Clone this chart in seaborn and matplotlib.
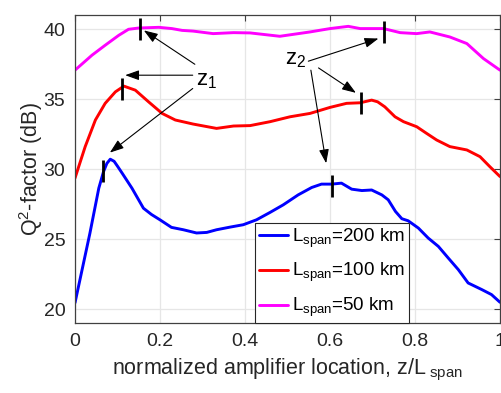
import numpy as np
import pandas as pd
import matplotlib
matplotlib.use("Agg")
import matplotlib.pyplot as plt
import seaborn as sns

# ---------------- data ----------------
x_200 = [0, 0.035, 0.056, 0.067, 0.075, 0.083, 0.092, 0.1, 0.111, 0.134, 0.161, 0.18, 0.2,
         0.227, 0.255, 0.286, 0.31, 0.333, 0.365, 0.396, 0.427, 0.459, 0.49, 0.525, 0.557,
         0.58, 0.604, 0.627, 0.651, 0.675, 0.698, 0.722, 0.737, 0.754, 0.769, 0.784, 0.808,
         0.831, 0.855, 0.878, 0.902, 0.925, 0.957, 0.98, 1.0]
q_200 = [20.44, 25.4, 28.63, 29.8, 30.4, 30.7, 30.55, 30.2, 29.7, 28.63, 27.2, 26.75, 26.37,
         25.83, 25.66, 25.43, 25.47, 25.66, 25.85, 26.02, 26.37, 26.9, 27.44, 28.15, 28.68,
         28.92, 28.92, 28.99, 28.56, 28.46, 28.5, 28.15, 27.8, 26.97, 26.45, 26.3, 25.78,
         25.07, 24.47, 23.65, 22.81, 21.86, 21.39, 21.03, 20.48]

x_100 = [0, 0.024, 0.048, 0.071, 0.095, 0.115, 0.142, 0.173, 0.205, 0.236, 0.278, 0.333,
         0.373, 0.412, 0.459, 0.506, 0.553, 0.6, 0.639, 0.671, 0.698, 0.712, 0.729, 0.753,
         0.773, 0.804, 0.827, 0.851, 0.882, 0.922, 0.953, 0.976, 1.0]
q_100 = [29.35, 31.6, 33.5, 34.69, 35.51, 35.92, 35.63, 34.8, 33.97, 33.5, 33.21, 32.9,
         33.07, 33.1, 33.38, 33.73, 33.97, 34.4, 34.69, 34.73, 34.92, 34.8, 34.44, 33.73,
         33.38, 33.02, 32.55, 32.07, 31.6, 31.36, 30.88, 30.17, 29.46]

x_50 = [0, 0.04, 0.071, 0.103, 0.126, 0.15, 0.197, 0.228, 0.252, 0.278, 0.325, 0.373, 0.412,
        0.482, 0.553, 0.6, 0.643, 0.671, 0.726, 0.765, 0.804, 0.835, 0.882, 0.922, 0.961, 1.0]
q_50 = [37.06, 38.13, 38.84, 39.55, 39.98, 40.07, 40.12, 40.03, 39.9, 39.85, 39.67, 39.74,
        39.72, 39.48, 39.79, 40.03, 40.19, 40.03, 40.03, 39.74, 39.67, 39.79, 39.43, 38.96,
        37.89, 37.06]

labels = [r"L$_{\rm span}$=200 km", r"L$_{\rm span}$=100 km", r"L$_{\rm span}$=50 km"]
colors = ["#0000ff", "#ff0000", "#ff00ff"]

# z1 / z2 marker positions
z_x = [0.154, 0.111, 0.066, 0.726, 0.673, 0.604]
z_y = [40.0, 35.75, 29.88, 39.79, 34.69, 28.81]

# ---------------- style ----------------
sns.set_theme(style="whitegrid")
plt.rcParams["font.family"] = ["Liberation Sans", "DejaVu Sans"]
plt.rcParams["mathtext.fontset"] = "custom"
plt.rcParams["mathtext.rm"] = "Liberation Sans"
plt.rcParams["mathtext.it"] = "Liberation Sans:italic"
plt.rcParams["mathtext.bf"] = "Liberation Sans:bold"

df = pd.concat([
    pd.DataFrame({"x": x_200, "q": q_200, "series": labels[0]}),
    pd.DataFrame({"x": x_100, "q": q_100, "series": labels[1]}),
    pd.DataFrame({"x": x_50, "q": q_50, "series": labels[2]}),
], ignore_index=True)

fig = plt.figure(figsize=(5.01, 3.93), dpi=100)
ax = fig.add_axes([75 / 501, 1 - 323 / 393, 425 / 501, 308 / 393])

sns.lineplot(data=df, x="x", y="q", hue="series", hue_order=labels,
             palette=dict(zip(labels, colors)), linewidth=2.1, ax=ax,
             sort=False, estimator=None)

ax.plot(z_x, z_y, ls="none", marker="|", ms=16, mew=2.0, color="black", zorder=5)

ax.set_xlim(0, 1)
ax.set_ylim(19, 41)
ax.set_xticks([0, 0.2, 0.4, 0.6, 0.8, 1])
ax.set_xticklabels(["0", "0.2", "0.4", "0.6", "0.8", "1"])
ax.set_yticks([20, 25, 30, 35, 40])

txtc = "#262626"
ax.tick_params(axis="both", direction="in", length=4, width=0.8, colors="#404040",
               labelcolor=txtc, labelsize=14, top=True, right=True, pad=7)
ax.grid(True, color="#e6e6e6", linewidth=0.9)
for s in ax.spines.values():
    s.set_color("#404040")
    s.set_linewidth(0.9)
    s.set_visible(True)

ax.set_xlabel(r"normalized amplifier location, z/L$_{\ \rm span}$", fontsize=15.5,
              color=txtc, labelpad=5)
ax.set_ylabel(r"Q$^2$-factor (dB)", fontsize=15.5, color=txtc, labelpad=-1)

# annotations
akw = dict(arrowstyle="-|>,head_length=0.7,head_width=0.25", color="black", lw=0.8,
           shrinkA=0, shrinkB=0, mutation_scale=12)
ax.annotate("", xy=(0.162, 39.9), xytext=(0.282, 37.48), arrowprops=akw)
ax.annotate("", xy=(0.118, 36.7), xytext=(0.277, 36.7), arrowprops=akw)
ax.annotate("", xy=(0.082, 31.17), xytext=(0.277, 35.75), arrowprops=akw)
ax.text(0.285, 36.3, r"z$_1$", fontsize=16, color="black", ha="left", va="center")

ax.annotate("", xy=(0.714, 39.32), xytext=(0.549, 37.7), arrowprops=akw)
ax.annotate("", xy=(0.661, 35.44), xytext=(0.573, 37.22), arrowprops=akw)
ax.annotate("", xy=(0.591, 30.41), xytext=(0.555, 37.06), arrowprops=akw)
ax.text(0.494, 37.85, r"z$_2$", fontsize=16, color="black", ha="left", va="center")

leg = ax.legend(loc="lower left", bbox_to_anchor=(0.4235, 0.0), borderaxespad=0,
                fontsize=13.5, frameon=True, fancybox=False, handlelength=1.55,
                handletextpad=0.25, labelspacing=0.62, borderpad=0.2, title=None)
leg.get_frame().set_edgecolor("#262626")
leg.get_frame().set_linewidth(0.8)
leg.get_frame().set_alpha(1)
for t in leg.get_texts():
    t.set_color("black")

fig.savefig("out.png", dpi=100)
